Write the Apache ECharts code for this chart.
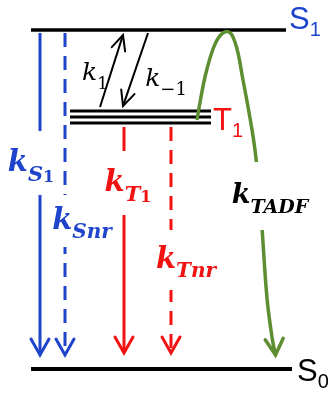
<!DOCTYPE html>
<html><head><meta charset="utf-8">
<script src="https://cdn.jsdelivr.net/npm/echarts@6/dist/echarts.min.js"></script>
<style>html,body{margin:0;padding:0;background:#fff}#c{width:332px;height:394px}</style>
</head><body><div id="c"></div>
<script>
// ---- data ----
// energy levels (diagram units: x across, y down)
const levelNames = ['S1', 'S0', 'T1a', 'T1b', 'T1c'];
const levelXStart = [31, 31, 70, 70, 70];
const levelXEnd = [286, 292, 211, 211, 211];
const levelY = [30, 369, 111, 117, 123];

// transitions (arrows)
const transitionNames = ['kS1', 'kSnr', 'kT1', 'kTnr', 'k1', 'k-1', 'kTADF-head'];
const transitionX0 = [40, 65, 124, 171, 100, 148, 273.5];
const transitionY0 = [33, 33, 127, 127, 107, 33, 330];
const transitionX1 = [40, 65, 124, 171, 123, 123, 275.5];
const transitionY1 = [355, 355, 353, 353, 35, 106, 355];

// TADF path
const tadfX = [197, 201, 205, 212, 219, 227, 235, 243, 250, 255, 259, 262, 267, 272, 275.5];
const tadfY = [120, 97, 77, 52, 37, 31.5, 42, 80, 118, 150, 190, 228, 298, 337, 355];

// labels
const labelNames = ['S1', 'S0', 'T1', 'kS1', 'kSnr', 'kT1', 'kTnr', 'kTADF', 'k1', 'k-1'];
const labelX = [289, 297, 213, 31, 82, 128, 186, 270, 95, 166];
const labelY = [20, 372, 121, 163, 221, 183, 260, 196, 73, 79];

// ---- styles ----
const BLUE = '#1e44cc', RED = '#f21212', GREEN = '#5e8e32', BLACK = '#000';
const levelStyle = { S1: 3.5, S0: 4, T1a: 2.8, T1b: 2.8, T1c: 2.8 };
const arrowStyle = {
  'kS1': { c: BLUE, w: 3, dash: null, hl: 16, hw: 9 },
  'kSnr': { c: BLUE, w: 3, dash: [14, 9], hl: 16, hw: 9 },
  'kT1': { c: RED, w: 3, dash: null, hl: 16, hw: 9 },
  'kTnr': { c: RED, w: 3, dash: [14, 9], hl: 16, hw: 9 },
  'k1': { c: BLACK, w: 2, dash: null, hl: 15, hw: 7 },
  'k-1': { c: BLACK, w: 2, dash: null, hl: 15, hw: 7 },
  'kTADF-head': { c: GREEN, w: 3.5, dash: null, hl: 16, hw: 9, headOnly: true }
};
const SERIF = 'DejaVu Serif', SANS = 'Liberation Sans';
function kRich(color, bold, kSize, sSize, nSize, L) {
  const fw = bold ? 'bold' : 'normal';
  return {
    k: { fontFamily: SERIF, fontWeight: fw, fontStyle: 'italic', fontSize: kSize, lineHeight: L, fill: color, verticalAlign: 'middle' },
    s: { fontFamily: SERIF, fontWeight: fw, fontStyle: 'italic', fontSize: sSize, lineHeight: sSize, fill: color, verticalAlign: 'bottom' },
    u: { fontFamily: SERIF, fontWeight: fw, fontStyle: 'normal', fontSize: sSize, lineHeight: sSize, fill: color, verticalAlign: 'bottom' },
    n: { fontFamily: SERIF, fontWeight: fw, fontStyle: 'normal', fontSize: nSize, lineHeight: nSize, fill: color, verticalAlign: 'bottom' }
  };
}
function stateRich(color) {
  return {
    a: { fontFamily: SANS, fontSize: 31, lineHeight: 40, fill: color, verticalAlign: 'middle' },
    b: { fontFamily: SANS, fontSize: 20, lineHeight: 20, fill: color, verticalAlign: 'bottom' }
  };
}
const labelStyle = {
  'S1': { text: '{a|S}{b|1}', rich: stateRich(BLUE), align: 'left' },
  'S0': { text: '{a|S}{b|0}', rich: stateRich(BLACK), align: 'left' },
  'T1': { text: '{a|T}{b|1}', rich: stateRich(RED), align: 'left' },
  'kS1': { text: '{k|k}{s|S}{n|1}', rich: kRich(BLUE, true, 29, 21, 16, 46), align: 'center', bg: true, pad: [9, 4] },
  'kSnr': { text: '{k|k}{s|Snr}', rich: kRich(BLUE, true, 29, 20, 16, 44), align: 'center', bg: true, pad: [4, 4] },
  'kT1': { text: '{k|k}{s|T}{n|1}', rich: kRich(RED, true, 29, 21, 16, 46), align: 'center', bg: true, pad: [9, 4] },
  'kTnr': { text: '{k|k}{s|Tnr}', rich: kRich(RED, true, 29, 20, 16, 44), align: 'center', bg: true, pad: [8, 14] },
  'kTADF': { text: '{k|k}{s|TADF}', rich: kRich(BLACK, true, 27, 19, 16, 44), align: 'center', bg: true, pad: [12, 10] },
  'k1': { text: '{k|k}{n|1}', rich: kRich(BLACK, false, 25, 18, 17, 40), align: 'center' },
  'k-1': { text: '{k|k}{u|−1}', rich: kRich(BLACK, false, 25, 18, 17, 40), align: 'center' }
};

// ---- build ----
const levelData = levelNames.map((n, i) => [levelXStart[i], levelY[i], levelXEnd[i], levelY[i]]);
const arrowData = transitionNames.map((n, i) => [transitionX0[i], transitionY0[i], transitionX1[i], transitionY1[i]]);
const tadfData = tadfX.map((x, i) => [x, tadfY[i]]);
const labelData = labelNames.map((n, i) => [labelX[i], labelY[i]]);

function renderLevel(params, api) {
  const a = api.coord([api.value(0), api.value(1)]);
  const b = api.coord([api.value(2), api.value(3)]);
  return { type: 'line', shape: { x1: a[0], y1: a[1], x2: b[0], y2: b[1] },
    style: { stroke: '#000', lineWidth: levelStyle[levelNames[params.dataIndex]] } };
}
function renderArrow(params, api) {
  const st = arrowStyle[transitionNames[params.dataIndex]];
  const a = api.coord([api.value(0), api.value(1)]);
  const b = api.coord([api.value(2), api.value(3)]);
  const dx = b[0] - a[0], dy = b[1] - a[1], len = Math.hypot(dx, dy);
  const ux = dx / len, uy = dy / len;
  const bx = b[0] - ux * st.hl, by = b[1] - uy * st.hl;
  const left = [bx - uy * st.hw, by + ux * st.hw], right = [bx + uy * st.hw, by - ux * st.hw];
  const children = [];
  if (!st.headOnly) {
    children.push({ type: 'line', shape: { x1: a[0], y1: a[1], x2: b[0] - ux * 1.5, y2: b[1] - uy * 1.5 },
      style: { stroke: st.c, lineWidth: st.w, lineDash: st.dash || null } });
  }
  children.push({ type: 'polyline', shape: { points: [left, b, right] },
    style: { stroke: st.c, lineWidth: st.w, fill: null, lineJoin: 'miter', lineCap: 'round' } });
  return { type: 'group', children };
}
function renderLabel(params, api) {
  const st = labelStyle[labelNames[params.dataIndex]];
  const p = api.coord([api.value(0), api.value(1)]);
  const style = { text: st.text, rich: st.rich, align: st.align, verticalAlign: 'middle' };
  if (st.bg) { style.backgroundColor = '#fff'; style.padding = st.pad; }
  return { type: 'text', x: p[0], y: p[1], style };
}

const chart = echarts.init(document.getElementById('c'), null, { renderer: 'canvas' });
chart.setOption({
  animation: false,
  backgroundColor: '#fff',
  grid: { left: 0, right: 0, top: 0, bottom: 0 },
  xAxis: { type: 'value', min: 0, max: 332, show: false },
  yAxis: { type: 'value', min: 0, max: 394, inverse: true, show: false },
  series: [
    { type: 'custom', name: 'levels', renderItem: renderLevel, data: levelData, z: 1, silent: true },
    { type: 'custom', name: 'transitions', renderItem: renderArrow, data: arrowData, z: 2, silent: true },
    { type: 'line', name: 'kTADF', data: tadfData, smooth: 0.4, symbol: 'none', z: 3, silent: true,
      lineStyle: { color: GREEN, width: 3.5 } },
    { type: 'custom', name: 'labels', renderItem: renderLabel, data: labelData, z: 5, silent: true }
  ]
});
</script></body></html>
